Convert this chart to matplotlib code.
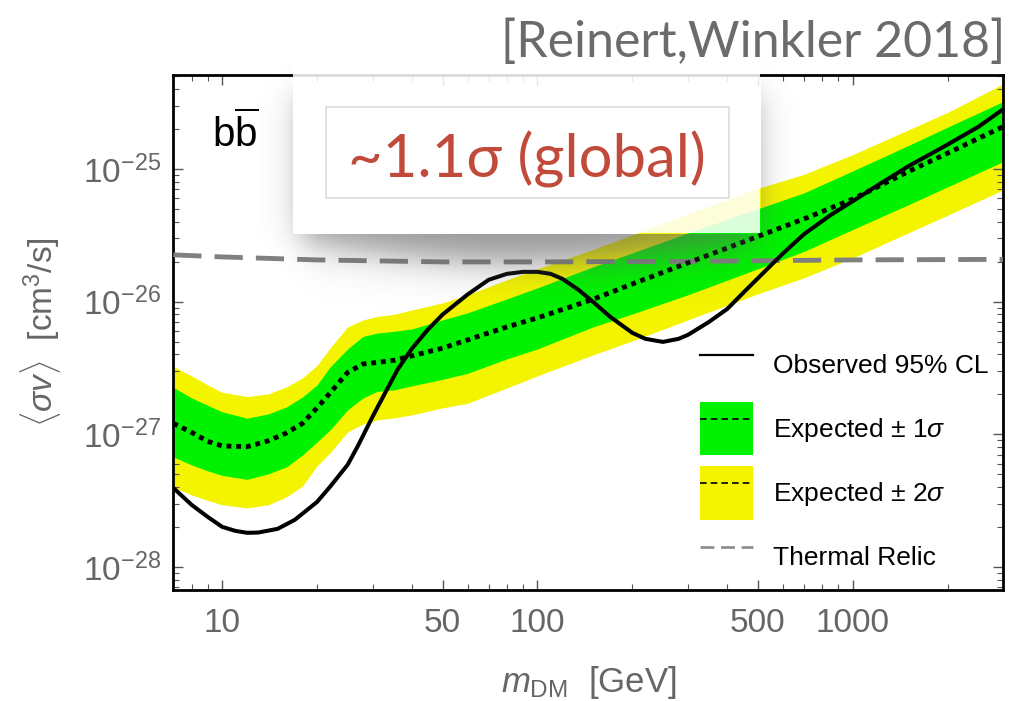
import numpy as np
import matplotlib
matplotlib.use("Agg")
import matplotlib.pyplot as plt
from matplotlib.patches import Rectangle, Patch
from matplotlib.lines import Line2D
from matplotlib.transforms import Affine2D
from matplotlib.ticker import FixedLocator, LogFormatterSciNotation, NullFormatter

plt.rcParams['font.family'] = ['Liberation Sans', 'DejaVu Sans']
plt.rcParams['mathtext.fontset'] = 'custom'
plt.rcParams['mathtext.rm'] = 'Liberation Sans'
plt.rcParams['mathtext.it'] = 'Liberation Sans:italic'
plt.rcParams['mathtext.bf'] = 'Liberation Sans:bold'

# all cross sections below are log10 of <sigma v> in units of 1e-26 cm^3/s

# observed 95% CL limit
obs_mass = [7, 8, 9, 10, 11, 12, 13, 15, 17, 20, 22, 25, 27, 30, 33, 36, 40, 45, 50,
            55, 60, 70, 80, 90, 100, 110, 120, 135, 150, 170, 200, 220, 250, 280, 300,
            350, 400, 450, 500, 600, 700, 850, 1000, 1200, 1500, 2000, 2500, 3000]
obs_log = [-1.404, -1.532, -1.623, -1.698, -1.728, -1.743, -1.741, -1.713, -1.645,
           -1.510, -1.395, -1.230, -1.084, -0.867, -0.681, -0.512, -0.354, -0.209,
           -0.098, -0.019, 0.053, 0.164, 0.209, 0.224, 0.224, 0.209, 0.171, 0.088,
           -0.002, -0.115, -0.236, -0.281, -0.304, -0.281, -0.251, -0.153, -0.055,
           0.068, 0.176, 0.362, 0.508, 0.652, 0.757, 0.877, 1.020, 1.184, 1.317, 1.450]

# expected limit and its 1 and 2 sigma bands
exp_mass = [7, 8, 9, 10, 12, 14, 16, 18, 20, 22, 25, 28, 31, 35, 40, 50, 60, 80, 100,
            150, 200, 300, 500, 700, 1000, 1500, 2000, 3000]
exp_log = [-0.918, -0.986, -1.054, -1.088, -1.094, -1.050, -0.990, -0.917, -0.801,
           -0.688, -0.534, -0.470, -0.459, -0.443, -0.409, -0.351, -0.289, -0.191,
           -0.123, 0.017, 0.133, 0.292, 0.491, 0.623, 0.772, 0.980, 1.119, 1.319]
sig1_hi = [-0.647, -0.726, -0.782, -0.831, -0.879, -0.847, -0.794, -0.718, -0.628,
           -0.492, -0.357, -0.262, -0.238, -0.225, -0.206, -0.138, -0.085, 0.020,
           0.103, 0.262, 0.367, 0.518, 0.699, 0.819, 0.985, 1.176, 1.315, 1.508]
sig1_lo = [-1.171, -1.231, -1.276, -1.310, -1.340, -1.299, -1.246, -1.156, -1.058,
           -0.967, -0.816, -0.726, -0.677, -0.666, -0.635, -0.586, -0.541, -0.432,
           -0.357, -0.191, -0.093, 0.051, 0.247, 0.378, 0.543, 0.730, 0.865, 1.055]
sig2_hi = [-0.488, -0.560, -0.628, -0.684, -0.716, -0.696, -0.643, -0.575, -0.481,
           -0.349, -0.191, -0.138, -0.112, -0.097, -0.063, -0.010, 0.051, 0.164,
           0.247, 0.394, 0.503, 0.661, 0.853, 0.959, 1.108, 1.294, 1.426, 1.641]
sig2_lo = [-1.397, -1.457, -1.499, -1.532, -1.555, -1.532, -1.472, -1.389, -1.238,
           -1.140, -0.982, -0.922, -0.892, -0.877, -0.854, -0.801, -0.767, -0.651,
           -0.560, -0.402, -0.296, -0.138, 0.058, 0.179, 0.329, 0.518, 0.651, 0.842]

# thermal relic cross section, units of 1e-26 cm^3/s
relic_mass = [7, 10, 20, 50, 100, 300, 1000, 3000]
relic = [2.25, 2.17, 2.06, 1.99, 1.99, 2.01, 2.06, 2.08]

x_major = [10, 50, 100, 500, 1000]
x_minor = [8, 9, 20, 30, 40, 60, 70, 80, 90, 200, 300, 400, 600, 700, 800, 900, 2000, 3000]
y_major = [1e-28, 1e-27, 1e-26, 1e-25]

unit = 1e-26
green = '#00f200'
yellow = '#f4f400'
gray_txt = '#666666'
ylo, yhi = 6.7e-29, 5.1e-25


def to_xs(logs):
    return unit * 10.0 ** np.array(logs)


W, H = 1010, 701
fig = plt.figure(figsize=(W / 100, H / 100), dpi=100)
ax = fig.add_axes([173.3 / W, 111 / H, 830 / W, 515 / H])

ax.fill_between(exp_mass, to_xs(sig2_lo), to_xs(sig2_hi), color=yellow, lw=0, zorder=1)
ax.fill_between(exp_mass, to_xs(sig1_lo), to_xs(sig1_hi), color=green, lw=0, zorder=2)
ax.plot(relic_mass, np.array(relic) * unit, color='#808080', lw=3.5,
        ls=(0, (5.8, 2.7)), zorder=3)
ax.plot(exp_mass, to_xs(exp_log), color='k', lw=3.5, ls=(0, (1, 1)), zorder=4)
ax.plot(obs_mass, to_xs(obs_log), color='k', lw=2.9, zorder=5,
        solid_joinstyle='round')

ax.set_xscale('log')
ax.set_yscale('log')
ax.set_xlim(7, 3000)
ax.set_ylim(ylo, yhi)

ax.xaxis.set_major_locator(FixedLocator(x_major))
ax.xaxis.set_minor_locator(FixedLocator(x_minor))
ax.xaxis.set_major_formatter(plt.FixedFormatter([str(v) for v in x_major]))
ax.xaxis.set_minor_formatter(NullFormatter())
y_minor = [k * 10.0 ** e for e in range(-29, -24) for k in range(2, 10)
           if ylo <= k * 10.0 ** e <= yhi]
ax.yaxis.set_major_locator(FixedLocator(y_major))
ax.yaxis.set_major_formatter(LogFormatterSciNotation())
ax.yaxis.set_minor_locator(FixedLocator(y_minor))
ax.yaxis.set_minor_formatter(NullFormatter())

ax.tick_params(which='both', direction='in', top=True, right=True,
               colors='#555555', labelcolor=gray_txt, labelsize=24)
ax.tick_params(which='major', length=7, width=1, pad=9)
ax.tick_params(axis='x', which='major', pad=13)
ax.tick_params(which='minor', length=4, width=0.8)
for s in ax.spines.values():
    s.set_linewidth(2)
    s.set_color('k')

ax.set_xlabel(r'$m_{\mathrm{DM}}$  [GeV]', fontsize=25, color=gray_txt, labelpad=18)
ax.set_ylabel(r'$\langle\sigma v\rangle$  [cm$^3$/s]', fontsize=24, color=gray_txt,
              labelpad=14)

ax.text(0.047, 0.86, r'$\mathrm{b\overline{b}}$', transform=ax.transAxes,
        fontsize=29, color='k')

# legend
dash_k = Line2D([], [], color='k', lw=1.2, ls=(0, (4, 2.4)))
handles = [
    Line2D([], [], color='k', lw=1.6),
    (Patch(facecolor=green, edgecolor='none'), dash_k),
    (Patch(facecolor=yellow, edgecolor='none'), dash_k),
    Line2D([], [], color='#909090', lw=2, ls=(0, (5, 2.4))),
]
labels = ['Observed 95% CL', r'Expected $\pm$ 1$\sigma$',
          r'Expected $\pm$ 2$\sigma$', 'Thermal Relic']
ax.legend(handles, labels, loc='upper left', bbox_to_anchor=(700 / W, 1 - 338 / H),
          bbox_transform=fig.transFigure, frameon=False, fontsize=19,
          handlelength=2.0, handleheight=2.74, labelspacing=0.4,
          handletextpad=0.78, borderpad=0, borderaxespad=0)

# annotation card with drop shadow, drawn on the figure in pixel coordinates
pix = Affine2D().scale(1 / W, -1 / H).translate(0, 1) + fig.transFigure

gx = np.arange(260, 800)
gy = np.arange(60, 320)
GX, GY = np.meshgrid(gx, gy)
bump = np.sin(np.clip((GX - 300) / 455, 0, 1) * np.pi)
bottom = 240 + 22 * bump
sx = 1 / (1 + np.exp(-(GX - 300) / 9)) * 1 / (1 + np.exp((GX - 755) / 9))
sy = 1 / (1 + np.exp(-(GY - 95) / 10)) * 1 / (1 + np.exp((GY - bottom) / 11))
alpha = 0.66 * sx * sy
inside = (GX >= 293) & (GX <= 760) & (GY <= 233)
alpha[inside] = 0
img = np.zeros(GX.shape + (4,))
img[..., :3] = 0.38
img[..., 3] = alpha
fig.figimage(img, xo=int(gx[0]), yo=H - int(gy[-1]) - 1, origin='upper', zorder=5)

fig.add_artist(Rectangle((293, 72), 467, 161, facecolor='white', alpha=0.86,
                         edgecolor='none', transform=pix, zorder=6))
fig.add_artist(Rectangle((326, 107), 403, 91, facecolor='none', edgecolor='#dcdcdc',
                         lw=1.2, transform=pix, zorder=7))
fig.text(527, 178, '~1.1\u03c3 (global)', ha='center', va='baseline', fontsize=43,
         color='#c14a3b', family=['Lato', 'Open Sans', 'DejaVu Sans'],
         transform=pix, zorder=8)

fig.text(1005, 57, '[Reinert,Winkler 2018]', ha='right', va='baseline', fontsize=36,
         color='#6b6b6b', family=['Lato', 'Open Sans', 'DejaVu Sans'], transform=pix)

fig.savefig('out.png', dpi=100)
